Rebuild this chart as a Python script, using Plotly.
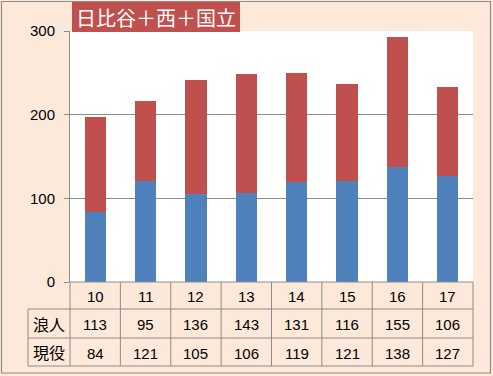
import plotly.graph_objects as go

categories = ["10", "11", "12", "13", "14", "15", "16", "17"]
ronin = [113, 95, 136, 143, 131, 116, 155, 106]      # 浪人
genneki = [84, 121, 105, 106, 119, 121, 138, 127]    # 現役
row_labels = ["浪人", "現役"]
title_text = "日比谷＋西＋国立"

W, H = 493, 376
L, R, T, B = 70, 20, 31, 94
PW, PH = W - L - R, H - T - B

def px(x):
    return (x - L) / PW

def py(y):
    return (H - B - y) / PH

BG = "#fde9d9"
GRID = "#8c8c8c"
BLUE = "#4f81bd"
RED = "#c0504d"
FONT = "Liberation Sans, Arial, sans-serif"
CJK = "Noto Sans CJK JP, sans-serif"

fig = go.Figure()
fig.add_bar(x=categories, y=genneki, name="現役", marker=dict(color=BLUE, line=dict(width=0)))
fig.add_bar(x=categories, y=ronin, name="浪人", marker=dict(color=RED, line=dict(width=0)))

shapes = []
annotations = []

# outer border
shapes.append(dict(type="rect", xref="paper", yref="paper",
                   x0=px(1.5), x1=px(490.5), y0=py(1.5), y1=py(373),
                   line=dict(color="#8c8c8c", width=1.2), fillcolor="rgba(0,0,0,0)", layer="above"))

n = len(categories)
cw = PW / n
ys = [282, 309, 338, 366]
xl = 28
line_style = dict(color=GRID, width=1)
shapes.append(dict(type="line", xref="paper", yref="paper", x0=px(L), x1=px(L + PW), y0=py(ys[0]), y1=py(ys[0]), line=line_style))
for yy in ys[1:]:
    shapes.append(dict(type="line", xref="paper", yref="paper", x0=px(xl), x1=px(L + PW), y0=py(yy), y1=py(yy), line=line_style))
for i in range(n + 1):
    xx = L + i * cw
    shapes.append(dict(type="line", xref="paper", yref="paper", x0=px(xx), x1=px(xx), y0=py(ys[0]), y1=py(ys[3]), line=line_style))
shapes.append(dict(type="line", xref="paper", yref="paper", x0=px(xl), x1=px(xl), y0=py(ys[1]), y1=py(ys[3]), line=line_style))

for i, c in enumerate(categories):
    cx = px(L + (i + 0.5) * cw)
    for r, val in enumerate([c, ronin[i], genneki[i]]):
        annotations.append(dict(xref="paper", yref="paper", x=cx, y=py((ys[r] + ys[r + 1]) / 2 + 1),
                                text=str(val), showarrow=False, xanchor="center", yanchor="middle",
                                font=dict(family=FONT, size=15, color="#000")))
for r, lab in enumerate(row_labels):
    annotations.append(dict(xref="paper", yref="paper", x=px((xl + L) / 2), y=py((ys[r + 1] + ys[r + 2]) / 2),
                            text=lab, showarrow=False, xanchor="center", yanchor="middle",
                            font=dict(family=CJK, size=16, color="#000")))

# title box
shapes.append(dict(type="rect", xref="paper", yref="paper", x0=px(72), x1=px(240), y0=py(32), y1=py(2),
                   fillcolor=RED, line=dict(width=0)))
annotations.append(dict(xref="paper", yref="paper", x=px(156), y=py(17), text=title_text, showarrow=False,
                        xanchor="center", yanchor="middle",
                        font=dict(family=CJK, size=20, color="white")))

fig.update_layout(
    width=W, height=H,
    margin=dict(l=L, r=R, t=T, b=B),
    paper_bgcolor=BG, plot_bgcolor="white",
    barmode="stack", bargap=0.58,
    showlegend=False,
    shapes=shapes, annotations=annotations,
    xaxis=dict(type="category", showticklabels=False, ticks="", showgrid=False, showline=False, zeroline=False,
               range=[-0.5, n - 0.5], fixedrange=True),
    yaxis=dict(range=[0, 300], tickvals=[0, 100, 200, 300], ticks="outside", ticklen=5, tickcolor=GRID,
               showgrid=True, gridcolor=GRID, gridwidth=1, showline=True, linecolor=GRID, linewidth=1,
               zeroline=False, tickfont=dict(family=FONT, size=15, color="#000"), ticklabelstandoff=6),
)

fig.write_html("out.html", config={"displayModeBar": False},
               post_script="document.body.style.margin='0px';document.body.style.padding='0px';")
